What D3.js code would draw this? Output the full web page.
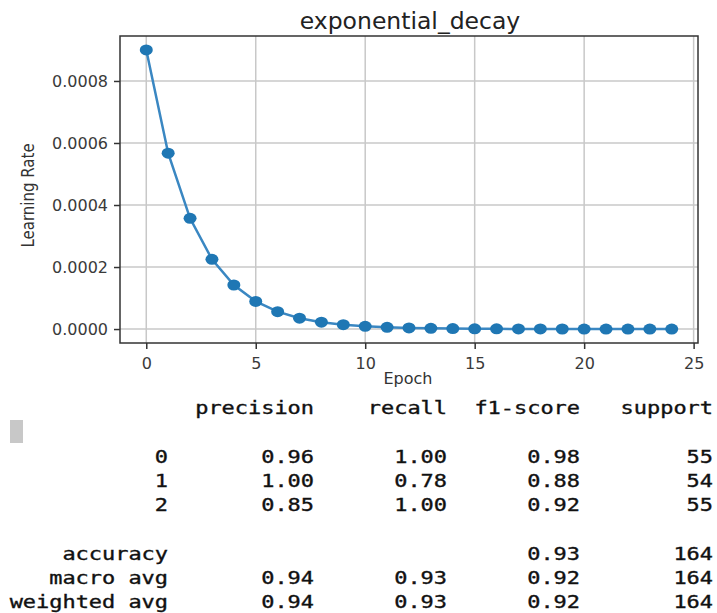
<!DOCTYPE html>
<html>
<head>
<meta charset="utf-8">
<script src="https://cdn.jsdelivr.net/npm/d3@7.9.0/dist/d3.min.js"></script>
<style>
  html, body { margin: 0; padding: 0; background: #fff; }
  svg { display: block; }
</style>
</head>
<body>
<svg id="chart" width="717" height="613"></svg>
<script>
// learning rate per epoch
const epochs = d3.range(0, 25);
const learningRates = [
  0.0009, 0.000567, 0.000357, 0.000225, 0.000142, 0.000089, 0.000056, 0.000035,
  0.000022, 0.000014, 0.0000089, 0.0000056, 0.0000035, 0.0000022, 0.0000014,
  0.0000009, 0.00000056, 0.00000035, 0.00000022, 0.00000014, 0.00000009,
  0.00000006, 0.00000004, 0.00000002, 0.00000001
];
const xTicks = [0, 5, 10, 15, 20, 25];
const yTicks = [0, 0.0002, 0.0004, 0.0006, 0.0008];

// classification report
const reportHeaders = ['precision', 'recall', 'f1-score', 'support'];
const classLabels = ['0', '1', '2'];
const precision = ['0.96', '1.00', '0.85'];
const recall = ['1.00', '0.78', '1.00'];
const f1Score = ['0.98', '0.88', '0.92'];
const support = ['55', '54', '55'];
const summaryLabels = ['accuracy', 'macro avg', 'weighted avg'];
const summaryPrecision = ['', '0.94', '0.94'];
const summaryRecall = ['', '0.93', '0.93'];
const summaryF1 = ['0.93', '0.92', '0.92'];
const summarySupport = ['164', '164', '164'];

const svg = d3.select('#chart');

// ---- line chart ----
const box = { left: 120, right: 698, top: 36, bottom: 343 };
const x = d3.scaleLinear().domain([-1.2, 25.2]).range([box.left, box.right]);
const y = d3.scaleLinear().domain([-0.000045, 0.000945]).range([box.bottom, box.top]);

const plot = svg.append('g');

// grid
plot.append('g')
  .selectAll('line')
  .data(xTicks)
  .join('line')
  .attr('x1', d => x(d)).attr('x2', d => x(d))
  .attr('y1', box.top).attr('y2', box.bottom)
  .attr('stroke', '#c8c8c8').attr('stroke-width', 1.5);

plot.append('g')
  .selectAll('line')
  .data(yTicks)
  .join('line')
  .attr('x1', box.left).attr('x2', box.right)
  .attr('y1', d => y(d)).attr('y2', d => y(d))
  .attr('stroke', '#c8c8c8').attr('stroke-width', 1.5);

// axes
const xAxis = plot.append('g')
  .attr('transform', `translate(0,${box.bottom})`)
  .call(d3.axisBottom(x).tickValues(xTicks).tickSize(6).tickPadding(4).tickFormat(d3.format('d')));
const yAxis = plot.append('g')
  .attr('transform', `translate(${box.left},0)`)
  .call(d3.axisLeft(y).tickValues(yTicks).tickSize(6).tickPadding(6).tickFormat(d3.format('.4f')));

[xAxis, yAxis].forEach(ax => {
  ax.select('.domain').remove();
  ax.selectAll('.tick line').attr('stroke', '#333').attr('stroke-width', 1.5);
  ax.selectAll('.tick text')
    .attr('fill', '#3a3a3a')
    .style('font-family', 'DejaVu Sans, sans-serif')
    .style('font-size', '16px');
});
xAxis.selectAll('.tick text').attr('dy', '1em');

// frame
plot.append('rect')
  .attr('x', box.left).attr('y', box.top)
  .attr('width', box.right - box.left).attr('height', box.bottom - box.top)
  .attr('fill', 'none').attr('stroke', '#333').attr('stroke-width', 1.5);

// series
const line = d3.line().x((d, i) => x(epochs[i])).y(d => y(d));
plot.append('path')
  .datum(learningRates)
  .attr('d', line)
  .attr('fill', 'none')
  .attr('stroke', '#3a87c2')
  .attr('stroke-width', 2.5);

plot.append('g')
  .selectAll('ellipse')
  .data(learningRates)
  .join('ellipse')
  .attr('cx', (d, i) => x(epochs[i]))
  .attr('cy', d => y(d))
  .attr('rx', 6.5).attr('ry', 5.5)
  .attr('fill', '#1f77b4');

// labels
plot.append('text')
  .attr('x', (box.left + box.right) / 2 + 1).attr('y', 29)
  .attr('text-anchor', 'middle')
  .style('font-family', 'DejaVu Sans, sans-serif')
  .style('font-size', '23.5px')
  .attr('fill', '#222')
  .text('exponential_decay');

plot.append('text')
  .attr('x', 408).attr('y', 384)
  .attr('text-anchor', 'middle')
  .style('font-family', 'DejaVu Sans, sans-serif')
  .style('font-size', '16px')
  .attr('fill', '#333')
  .text('Epoch');

plot.append('text')
  .attr('transform', `translate(34,${(box.top + box.bottom) / 2 + 6}) rotate(-90) scale(1,1.15)`)
  .attr('text-anchor', 'middle')
  .style('font-family', 'DejaVu Sans, sans-serif')
  .style('font-size', '15px')
  .attr('fill', '#333')
  .text('Learning Rate');

// ---- text report ----
const colX = i => i === 0 ? 168 : 314 + (i - 1) * 133; // right edges
const lineY = d3.scaleLinear().domain([0, 8]).range([414, 608]);

// cursor-like grey block
svg.append('rect')
  .attr('x', 10).attr('y', 420).attr('width', 13).attr('height', 23)
  .attr('fill', '#c8c8c8');

const rows = [];
rows.push({ line: 0, cells: [''].concat(reportHeaders) });
classLabels.forEach((c, i) => {
  rows.push({ line: 2 + i, cells: [c, precision[i], recall[i], f1Score[i], support[i]] });
});
summaryLabels.forEach((s, i) => {
  rows.push({ line: 6 + i, cells: [s, summaryPrecision[i], summaryRecall[i], summaryF1[i], summarySupport[i]] });
});

const report = svg.append('g')
  .style('font-family', 'DejaVu Sans Mono, Liberation Mono, monospace')
  .style('font-size', '17px')
  .attr('fill', '#111')
  .attr('stroke', '#111')
  .attr('stroke-width', 0.35);

rows.forEach(r => {
  r.cells.forEach((txt, ci) => {
    if (!txt) return;
    report.append('text')
      .attr('transform', `translate(${colX(ci)},${lineY(r.line)}) scale(1.29,1)`)
      .attr('text-anchor', 'end')
      .text(txt);
  });
});
</script>
</body>
</html>
